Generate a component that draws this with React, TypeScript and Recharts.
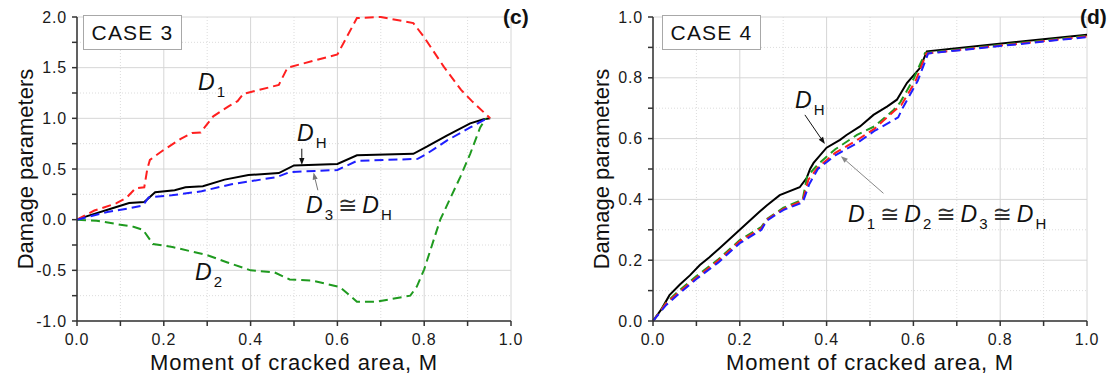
import { Fragment } from "react";
import {
  CartesianGrid,
  Label,
  Line,
  LineChart,
  ReferenceLine,
  XAxis,
  YAxis,
} from "recharts";

const FONT = '"Liberation Sans", Arial, "DejaVu Sans", sans-serif';

// moment of cracked area M -> damage parameter
const case3DH = [
  [0, 0], [0.02, 0.03], [0.087, 0.12], [0.12, 0.165], [0.155, 0.175], [0.18, 0.27],
  [0.225, 0.29], [0.25, 0.32], [0.29, 0.33], [0.34, 0.395], [0.395, 0.44], [0.465, 0.46],
  [0.5, 0.535], [0.6, 0.55], [0.645, 0.635], [0.775, 0.65], [0.806, 0.72], [0.852, 0.83],
  [0.906, 0.95], [0.937, 0.99], [0.952, 1.0],
];
const case3D1 = [
  [0, 0], [0.04, 0.09], [0.09, 0.16], [0.115, 0.22], [0.135, 0.31], [0.155, 0.32],
  [0.162, 0.5], [0.168, 0.59], [0.197, 0.68], [0.24, 0.8], [0.265, 0.855], [0.285, 0.86],
  [0.314, 1.02], [0.35, 1.12], [0.37, 1.17], [0.383, 1.24], [0.465, 1.33], [0.485, 1.5],
  [0.6, 1.63], [0.645, 1.99], [0.7, 2.0], [0.775, 1.94], [0.8, 1.8], [0.845, 1.51],
  [0.885, 1.28], [0.91, 1.17], [0.952, 1.0],
];
const case3D2 = [
  [0, 0], [0.045, -0.01], [0.1, -0.05], [0.13, -0.07], [0.152, -0.1], [0.175, -0.24],
  [0.22, -0.27], [0.3, -0.35], [0.345, -0.42], [0.4, -0.5], [0.455, -0.52], [0.49, -0.59],
  [0.54, -0.6], [0.606, -0.665], [0.645, -0.81], [0.69, -0.81], [0.768, -0.75],
  [0.783, -0.66], [0.8, -0.49], [0.837, 0.0], [0.883, 0.42], [0.906, 0.65], [0.929, 0.91],
  [0.942, 1.0],
];
const case3D3 = [
  [0, 0], [0.07, 0.075], [0.117, 0.11], [0.152, 0.14], [0.165, 0.22], [0.218, 0.24],
  [0.287, 0.28], [0.356, 0.35], [0.46, 0.42], [0.49, 0.47], [0.6, 0.49], [0.645, 0.58],
  [0.785, 0.6], [0.806, 0.65], [0.852, 0.78], [0.906, 0.91], [0.945, 1.0],
];

const case4DH = [
  [0, 0], [0.02, 0.04], [0.038, 0.085], [0.062, 0.12], [0.085, 0.15], [0.108, 0.184],
  [0.13, 0.21], [0.154, 0.24], [0.2, 0.3], [0.246, 0.36], [0.262, 0.38], [0.292, 0.414],
  [0.338, 0.44], [0.354, 0.47], [0.362, 0.5], [0.37, 0.52], [0.4, 0.57], [0.431, 0.596],
  [0.446, 0.612], [0.477, 0.64], [0.508, 0.678], [0.54, 0.706], [0.562, 0.728],
  [0.585, 0.783], [0.615, 0.832], [0.631, 0.887], [1.0, 0.942],
];
const case4D1 = [
  [0, 0], [0.03, 0.058], [0.06, 0.095], [0.1, 0.142], [0.15, 0.198], [0.2, 0.262],
  [0.25, 0.305], [0.262, 0.333], [0.3, 0.368], [0.345, 0.395], [0.358, 0.465],
  [0.38, 0.505], [0.42, 0.553], [0.47, 0.595], [0.51, 0.632], [0.555, 0.69], [0.572, 0.71],
  [0.605, 0.79], [0.63, 0.88], [1.0, 0.936],
];
const case4D2 = [
  [0, 0], [0.03, 0.06], [0.06, 0.1], [0.1, 0.148], [0.15, 0.202], [0.2, 0.266],
  [0.25, 0.31], [0.262, 0.335], [0.3, 0.372], [0.345, 0.4], [0.355, 0.475], [0.38, 0.515],
  [0.42, 0.565], [0.47, 0.612], [0.51, 0.64], [0.555, 0.695], [0.57, 0.72], [0.6, 0.795],
  [0.627, 0.882], [1.0, 0.938],
];
const case4D3 = [
  [0, 0], [0.03, 0.052], [0.06, 0.09], [0.1, 0.138], [0.15, 0.192], [0.2, 0.256],
  [0.25, 0.3], [0.262, 0.33], [0.3, 0.365], [0.345, 0.39], [0.36, 0.45], [0.38, 0.5],
  [0.42, 0.545], [0.47, 0.585], [0.51, 0.625], [0.565, 0.67], [0.575, 0.7], [0.61, 0.79],
  [0.634, 0.88], [1.0, 0.934],
];

const xTicks = [0, 0.1, 0.2, 0.3, 0.4, 0.5, 0.6, 0.7, 0.8, 0.9, 1.0];
const case3YTicks = [-1, -0.75, -0.5, -0.25, 0, 0.25, 0.5, 0.75, 1, 1.25, 1.5, 1.75, 2];
const case4YTicks = [0, 0.1, 0.2, 0.3, 0.4, 0.5, 0.6, 0.7, 0.8, 0.9, 1.0];

// arrows pointing from the labels to the curves: [tail, tip] in data units
const case3Arrows = [
  { from: [0.518, 0.7], to: [0.518, 0.54], color: "#111" },
  { from: [0.555, 0.29], to: [0.545, 0.465], color: "#777" },
];
const case4Arrows = [
  { from: [0.35, 0.678], to: [0.396, 0.582], color: "#111" },
  { from: [0.531, 0.42], to: [0.433, 0.542], color: "#888" },
];

const RED = "#ff1f1f";
const GREEN = "#1f9a1f";
const BLUE = "#1f1fff";

const toRows = (pairs: number[][]) => pairs.map(([m, v]) => ({ m, v }));

interface Series {
  name: string;
  pairs: number[][];
  color: string;
  dashed: boolean;
}

interface PanelProps {
  left: number;
  width: number;
  axisWidth: number;
  rightMargin: number;
  yDomain: [number, number];
  yTicks: number[];
  yMajorStep: number;
  yLabelOffset: number;
  series: Series[];
  arrows: { from: number[]; to: number[]; color: string }[];
}

function arrowShape(color: string) {
  return (p: any) => {
    const { x1, y1, x2, y2 } = p;
    const a = Math.atan2(y2 - y1, x2 - x1);
    const len = 7;
    const half = 2.6;
    const bx = x2 - len * Math.cos(a);
    const by = y2 - len * Math.sin(a);
    const pts = `${x2},${y2} ${bx - half * Math.sin(a)},${by + half * Math.cos(a)} ${bx + half * Math.sin(a)},${by - half * Math.cos(a)}`;
    return (
      <g>
        <line x1={x1} y1={y1} x2={bx} y2={by} stroke={color} strokeWidth={1} />
        <polygon points={pts} fill={color} />
      </g>
    );
  };
}

const isMajor = (v: number, step: number) => Math.abs(v / step - Math.round(v / step)) < 1e-6;

function Panel(props: PanelProps) {
  const { yTicks, yMajorStep } = props;
  const xMajor = xTicks.filter((v) => isMajor(v, 0.2));
  const xMinor = xTicks.filter((v) => !isMajor(v, 0.2));
  const yMajor = yTicks.filter((v) => isMajor(v, yMajorStep));
  const yMinor = yTicks.filter((v) => !isMajor(v, yMajorStep));
  const tickStyle = { fill: "#1a1a1a", fontSize: 16, letterSpacing: 0.8 };
  const axisStroke = { stroke: "#333", strokeWidth: 1.5 };

  return (
    <div style={{ position: "absolute", left: props.left, top: 0 }}>
      <LineChart
        width={props.width}
        height={381}
        margin={{ top: 17, right: props.rightMargin, bottom: 0, left: 0 }}
      >
        <CartesianGrid
          horizontalValues={yMinor}
          verticalValues={xMinor}
          stroke="#dcdcdc"
          strokeDasharray="1 2"
        />
        <CartesianGrid horizontalValues={yMajor} verticalValues={xMajor} stroke="#d6d6d6" />
        <XAxis
          type="number"
          dataKey="m"
          domain={[0, 1]}
          ticks={xTicks}
          interval={0}
          height={60}
          tickSize={5}
          tickMargin={8}
          axisLine={axisStroke}
          tickLine={axisStroke}
          tick={tickStyle}
          tickFormatter={(v: number) => (isMajor(v, 0.2) ? v.toFixed(1) : "")}
        >
          <Label
            value="Moment of cracked area, M"
            position="insideBottom"
            offset={11}
            style={{ fontSize: 22, fill: "#111", letterSpacing: 0.8 }}
          />
        </XAxis>
        <YAxis
          type="number"
          domain={props.yDomain}
          ticks={yTicks}
          interval={0}
          width={props.axisWidth}
          tickSize={5}
          tickMargin={5}
          axisLine={axisStroke}
          tickLine={axisStroke}
          tick={tickStyle}
          tickFormatter={(v: number) => (isMajor(v, yMajorStep) ? v.toFixed(1) : "")}
        >
          <Label
            value="Damage parameters"
            angle={-90}
            position="insideLeft"
            offset={props.yLabelOffset}
            style={{ fontSize: 22, fill: "#111", textAnchor: "middle" }}
          />
        </YAxis>
        {props.series.map((s) => (
          <Line
            key={s.name}
            data={toRows(s.pairs)}
            dataKey="v"
            type="linear"
            stroke={s.color}
            strokeWidth={s.dashed ? 2 : 2}
            strokeDasharray={s.dashed ? "9 5" : undefined}
            dot={false}
            activeDot={false}
            isAnimationActive={false}
          />
        ))}
        {props.arrows.map((a, i) => (
          <ReferenceLine
            key={i}
            segment={[
              { x: a.from[0], y: a.from[1] },
              { x: a.to[0], y: a.to[1] },
            ]}
            shape={arrowShape(a.color)}
          />
        ))}
      </LineChart>
    </div>
  );
}

function DLabel({ x, y, subs, size = 23 }: { x: number; y: number; subs: string[]; size?: number }) {
  return (
    <text x={x} y={y} fontSize={size} fill="#111" fontFamily={FONT}>
      {subs.map((sub, i) => (
        <Fragment key={i}>
          {i > 0 && (
            <tspan dx={5} dy={-7} fill="#333">
              ≅
            </tspan>
          )}
          <tspan dx={i > 0 ? 5 : 0} fontStyle="italic">
            D
          </tspan>
          <tspan dx={2} dy={7} fontSize={15}>
            {sub}
          </tspan>
        </Fragment>
      ))}
    </text>
  );
}

function CaseBox({ left, text }: { left: number; text: string }) {
  return (
    <div
      style={{
        position: "absolute",
        left,
        top: 15,
        width: 97,
        height: 33,
        border: "1px solid #a8a8a8",
        background: "#fff",
        display: "flex",
        alignItems: "center",
        justifyContent: "center",
        fontSize: 21,
        letterSpacing: 1.2,
        color: "#111",
      }}
    >
      {text}
    </div>
  );
}

export default function App() {
  return (
    <div
      style={{
        position: "absolute",
        left: 0,
        top: 0,
        width: 1116,
        height: 381,
        background: "#fff",
        fontFamily: FONT,
      }}
    >
      <Panel
        left={0}
        width={560}
        axisWidth={77}
        rightMargin={49}
        yDomain={[-1, 2]}
        yTicks={case3YTicks}
        yMajorStep={0.5}
        yLabelOffset={25}
        series={[
          { name: "DH", pairs: case3DH, color: "#000", dashed: false },
          { name: "D2", pairs: case3D2, color: GREEN, dashed: true },
          { name: "D1", pairs: case3D1, color: RED, dashed: true },
          { name: "D3", pairs: case3D3, color: BLUE, dashed: true },
        ]}
        arrows={case3Arrows}
      />
      <Panel
        left={560}
        width={556}
        axisWidth={93}
        rightMargin={29}
        yDomain={[0, 1]}
        yTicks={case4YTicks}
        yMajorStep={0.2}
        yLabelOffset={41}
        series={[
          { name: "DH", pairs: case4DH, color: "#000", dashed: false },
          { name: "D2", pairs: case4D2, color: GREEN, dashed: true },
          { name: "D1", pairs: case4D1, color: RED, dashed: true },
          { name: "D3", pairs: case4D3, color: BLUE, dashed: true },
        ]}
        arrows={case4Arrows}
      />
      <CaseBox left={83} text="CASE 3" />
      <CaseBox left={662} text="CASE 4" />
      <svg
        width={1116}
        height={381}
        style={{ position: "absolute", left: 0, top: 0, pointerEvents: "none" }}
      >
        <text x={503} y={24} fontSize={21} fontWeight="bold" fill="#111" fontFamily={FONT}>
          (c)
        </text>
        <text x={1080} y={24} fontSize={21} fontWeight="bold" fill="#111" fontFamily={FONT}>
          (d)
        </text>
        <DLabel x={198} y={90} subs={["1"]} />
        <DLabel x={195} y={280} subs={["2"]} />
        <DLabel x={297} y={141} subs={["H"]} />
        <DLabel x={306} y={213} subs={["3", "H"]} />
        <DLabel x={795} y={108} subs={["H"]} />
        <DLabel x={848} y={222} subs={["1", "2", "3", "H"]} />
      </svg>
    </div>
  );
}
